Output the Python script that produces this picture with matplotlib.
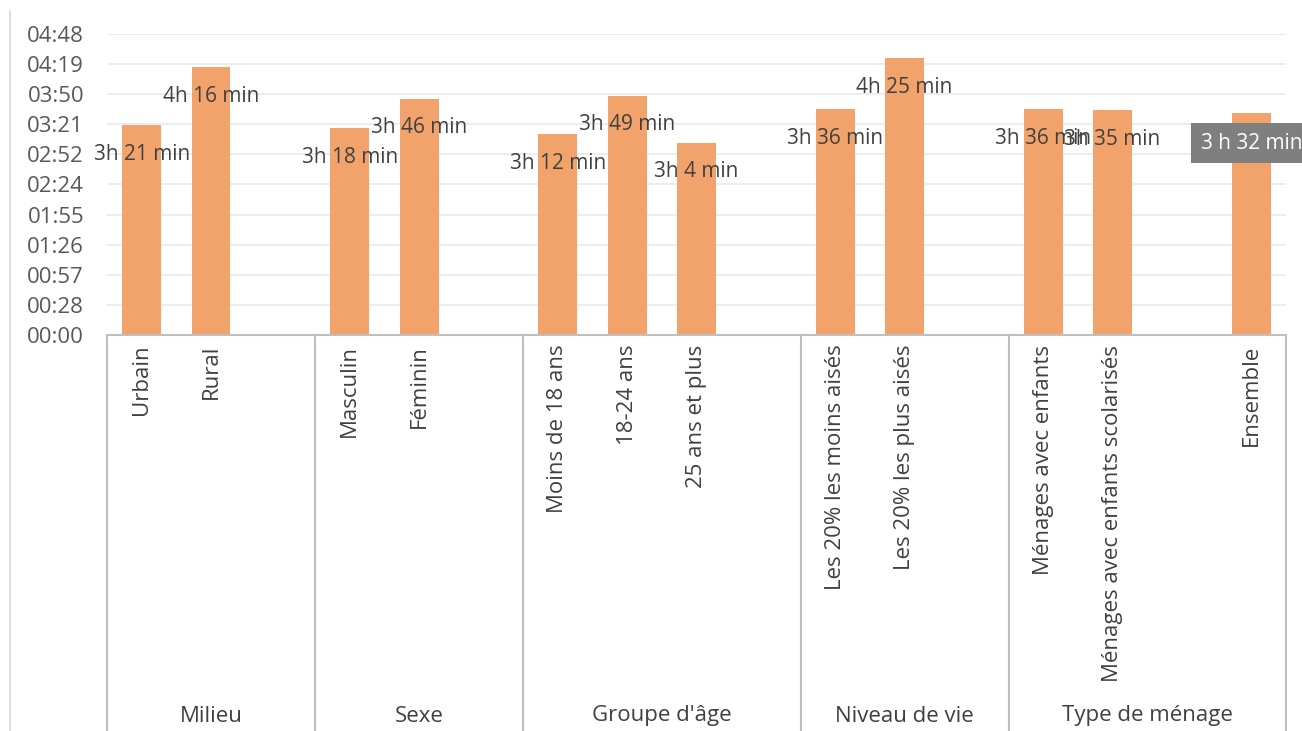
import matplotlib.pyplot as plt
from matplotlib.transforms import blended_transform_factory
from matplotlib.lines import Line2D

plt.rcParams['font.family'] = ['Open Sans', 'DejaVu Sans']

# === Données ===
categories = ['Urbain', 'Rural', '',
              'Masculin', 'Féminin', '',
              'Moins de 18 ans', '18-24 ans', '25 ans et plus', '',
              'Les 20% les moins aisés', 'Les 20% les plus aisés', '',
              'Ménages avec enfants', 'Ménages avec enfants scolarisés', '', 'Ensemble']
minutes = [201, 256, None,
           198, 226, None,
           192, 229, 184, None,
           216, 265, None,
           216, 215, None, 212]
group_names = ['Milieu', 'Sexe', "Groupe d'âge", 'Niveau de vie', 'Type de ménage']
group_sizes = [3, 3, 4, 3, 4]
highlight = 'Ensemble'

bar_color = '#F1A36B'
text_color = '#404040'
axis_grey = '#BFBFBF'
fs = 16
fs_lab = 15

fig = plt.figure(figsize=(13.02, 7.31), dpi=100)
ax = fig.add_axes([107 / 1302, 1 - 335 / 731, (1286 - 107) / 1302, 301 / 731])

x = list(range(len(categories)))
for i, (cat, m) in enumerate(zip(categories, minutes)):
    if m is None:
        continue
    ax.bar(i, m, width=0.56, color=bar_color, zorder=2)
    if cat == highlight:
        txt = f"{m // 60} h {m % 60} min"
        ax.annotate(txt, (i, m), xytext=(0, -21.5), textcoords='offset points',
                    ha='center', va='center', fontsize=fs_lab, color='white',
                    bbox=dict(boxstyle='square,pad=0.45', fc='#7F7F7F', ec='none'),
                    zorder=4, annotation_clip=False)
    else:
        txt = f"{m // 60}h {m % 60} min"
        ax.annotate(txt, (i, m), xytext=(0, -21), textcoords='offset points',
                    ha='center', va='center', fontsize=fs_lab, color=text_color, zorder=3)

ax.set_xlim(-0.5, len(categories) - 0.5)
ax.set_ylim(0, 288)

# graduations en hh:mm (format heure Excel)
yt = [i * 28.8 for i in range(11)]
ax.set_yticks(yt)
ax.set_yticklabels([f"{int(t) // 60:02d}:{int(t) % 60:02d}" for t in yt],
                   fontsize=fs, color='#595959')
ax.tick_params(axis='y', length=0, pad=16.5)
ax.grid(axis='y', color='#EAEAEA', linewidth=1.2, zorder=0)

ax.set_xticks(x)
ax.set_xticklabels(categories, rotation=90, va='top', fontsize=fs, color=text_color)
ax.tick_params(axis='x', length=0, pad=7)

for s in ['top', 'right', 'left']:
    ax.spines[s].set_visible(False)
ax.spines['bottom'].set_color(axis_grey)
ax.spines['bottom'].set_linewidth(1.5)

# séparateurs et noms de groupes
tr = blended_transform_factory(ax.transData, fig.transFigure)
ybot = 1 - 335 / 731
edges = [-0.5]
for n in group_sizes:
    edges.append(edges[-1] + n)
for e in edges:
    ax.add_line(Line2D([e, e], [0, ybot], transform=tr, color=axis_grey,
                       linewidth=1.5, clip_on=False))
for name, a, b in zip(group_names, edges[:-1], edges[1:]):
    ax.text((a + b) / 2, 1 - 716 / 731, name, transform=tr, ha='center', va='center',
            fontsize=fs, color=text_color)

# bordure gauche de la zone de graphique
fig.add_artist(Line2D([10 / 1302, 10 / 1302], [0, 1 - 11 / 731], color='#D9D9D9', linewidth=1.2))

fig.savefig('out.png', dpi=100)
